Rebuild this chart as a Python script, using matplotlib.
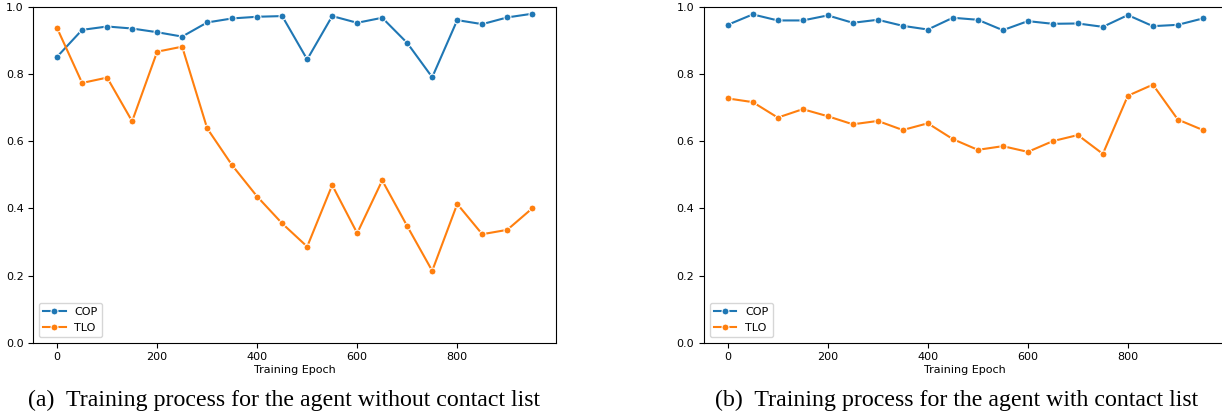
import matplotlib
matplotlib.use("Agg")
import matplotlib.pyplot as plt
import numpy as np

epochs = list(range(0, 1000, 50))

# without contact list
cop_a = [0.851, 0.931, 0.941, 0.935, 0.924, 0.911, 0.953, 0.965, 0.970, 0.972,
         0.843, 0.972, 0.952, 0.967, 0.892, 0.790, 0.960, 0.948, 0.968, 0.979]
tlo_a = [0.936, 0.773, 0.789, 0.659, 0.866, 0.881, 0.638, 0.528, 0.435, 0.355,
         0.286, 0.469, 0.326, 0.483, 0.347, 0.214, 0.413, 0.323, 0.336, 0.400]

# with contact list
cop_b = [0.946, 0.977, 0.959, 0.959, 0.974, 0.952, 0.961, 0.943, 0.932, 0.967,
         0.961, 0.930, 0.957, 0.949, 0.950, 0.940, 0.975, 0.942, 0.946, 0.965]
tlo_b = [0.727, 0.716, 0.670, 0.695, 0.674, 0.650, 0.660, 0.633, 0.653, 0.606,
         0.574, 0.585, 0.568, 0.600, 0.618, 0.562, 0.735, 0.768, 0.664, 0.633]

captions = ["(a)  Training process for the agent without contact list",
            "(b)  Training process for the agent with contact list"]

fig = plt.figure(figsize=(12.22, 4.17), dpi=100)
ax1 = fig.add_axes([0.0273, 0.178, 0.4277, 0.806])
ax2 = fig.add_axes([0.5761, 0.178, 0.4277, 0.806])

for ax, cop, tlo in [(ax1, cop_a, tlo_a), (ax2, cop_b, tlo_b)]:
    ax.plot(epochs, cop, marker="o", color="#1f77b4", lw=1.5, ms=5,
            mec="white", mew=0.75, label="COP")
    ax.plot(epochs, tlo, marker="o", color="#ff7f0e", lw=1.5, ms=5,
            mec="white", mew=0.75, label="TLO")
    ax.set_ylim(0, 1.0)
    ax.set_xlim(-47.5, 997.5)
    ax.set_xticks([0, 200, 400, 600, 800])
    ax.set_yticks(np.arange(0, 1.01, 0.2))
    ax.tick_params(labelsize=8)
    ax.set_xlabel("Training Epoch", fontsize=8, labelpad=2)
    ax.legend(loc="lower left", fontsize=8)

fig.text(0.2325, 0.04, captions[0], ha="center", va="center",
         fontsize=17.2, family="Liberation Serif")
fig.text(0.783, 0.04, captions[1], ha="center", va="center",
         fontsize=17.2, family="Liberation Serif")

fig.savefig("out.png", dpi=100)
